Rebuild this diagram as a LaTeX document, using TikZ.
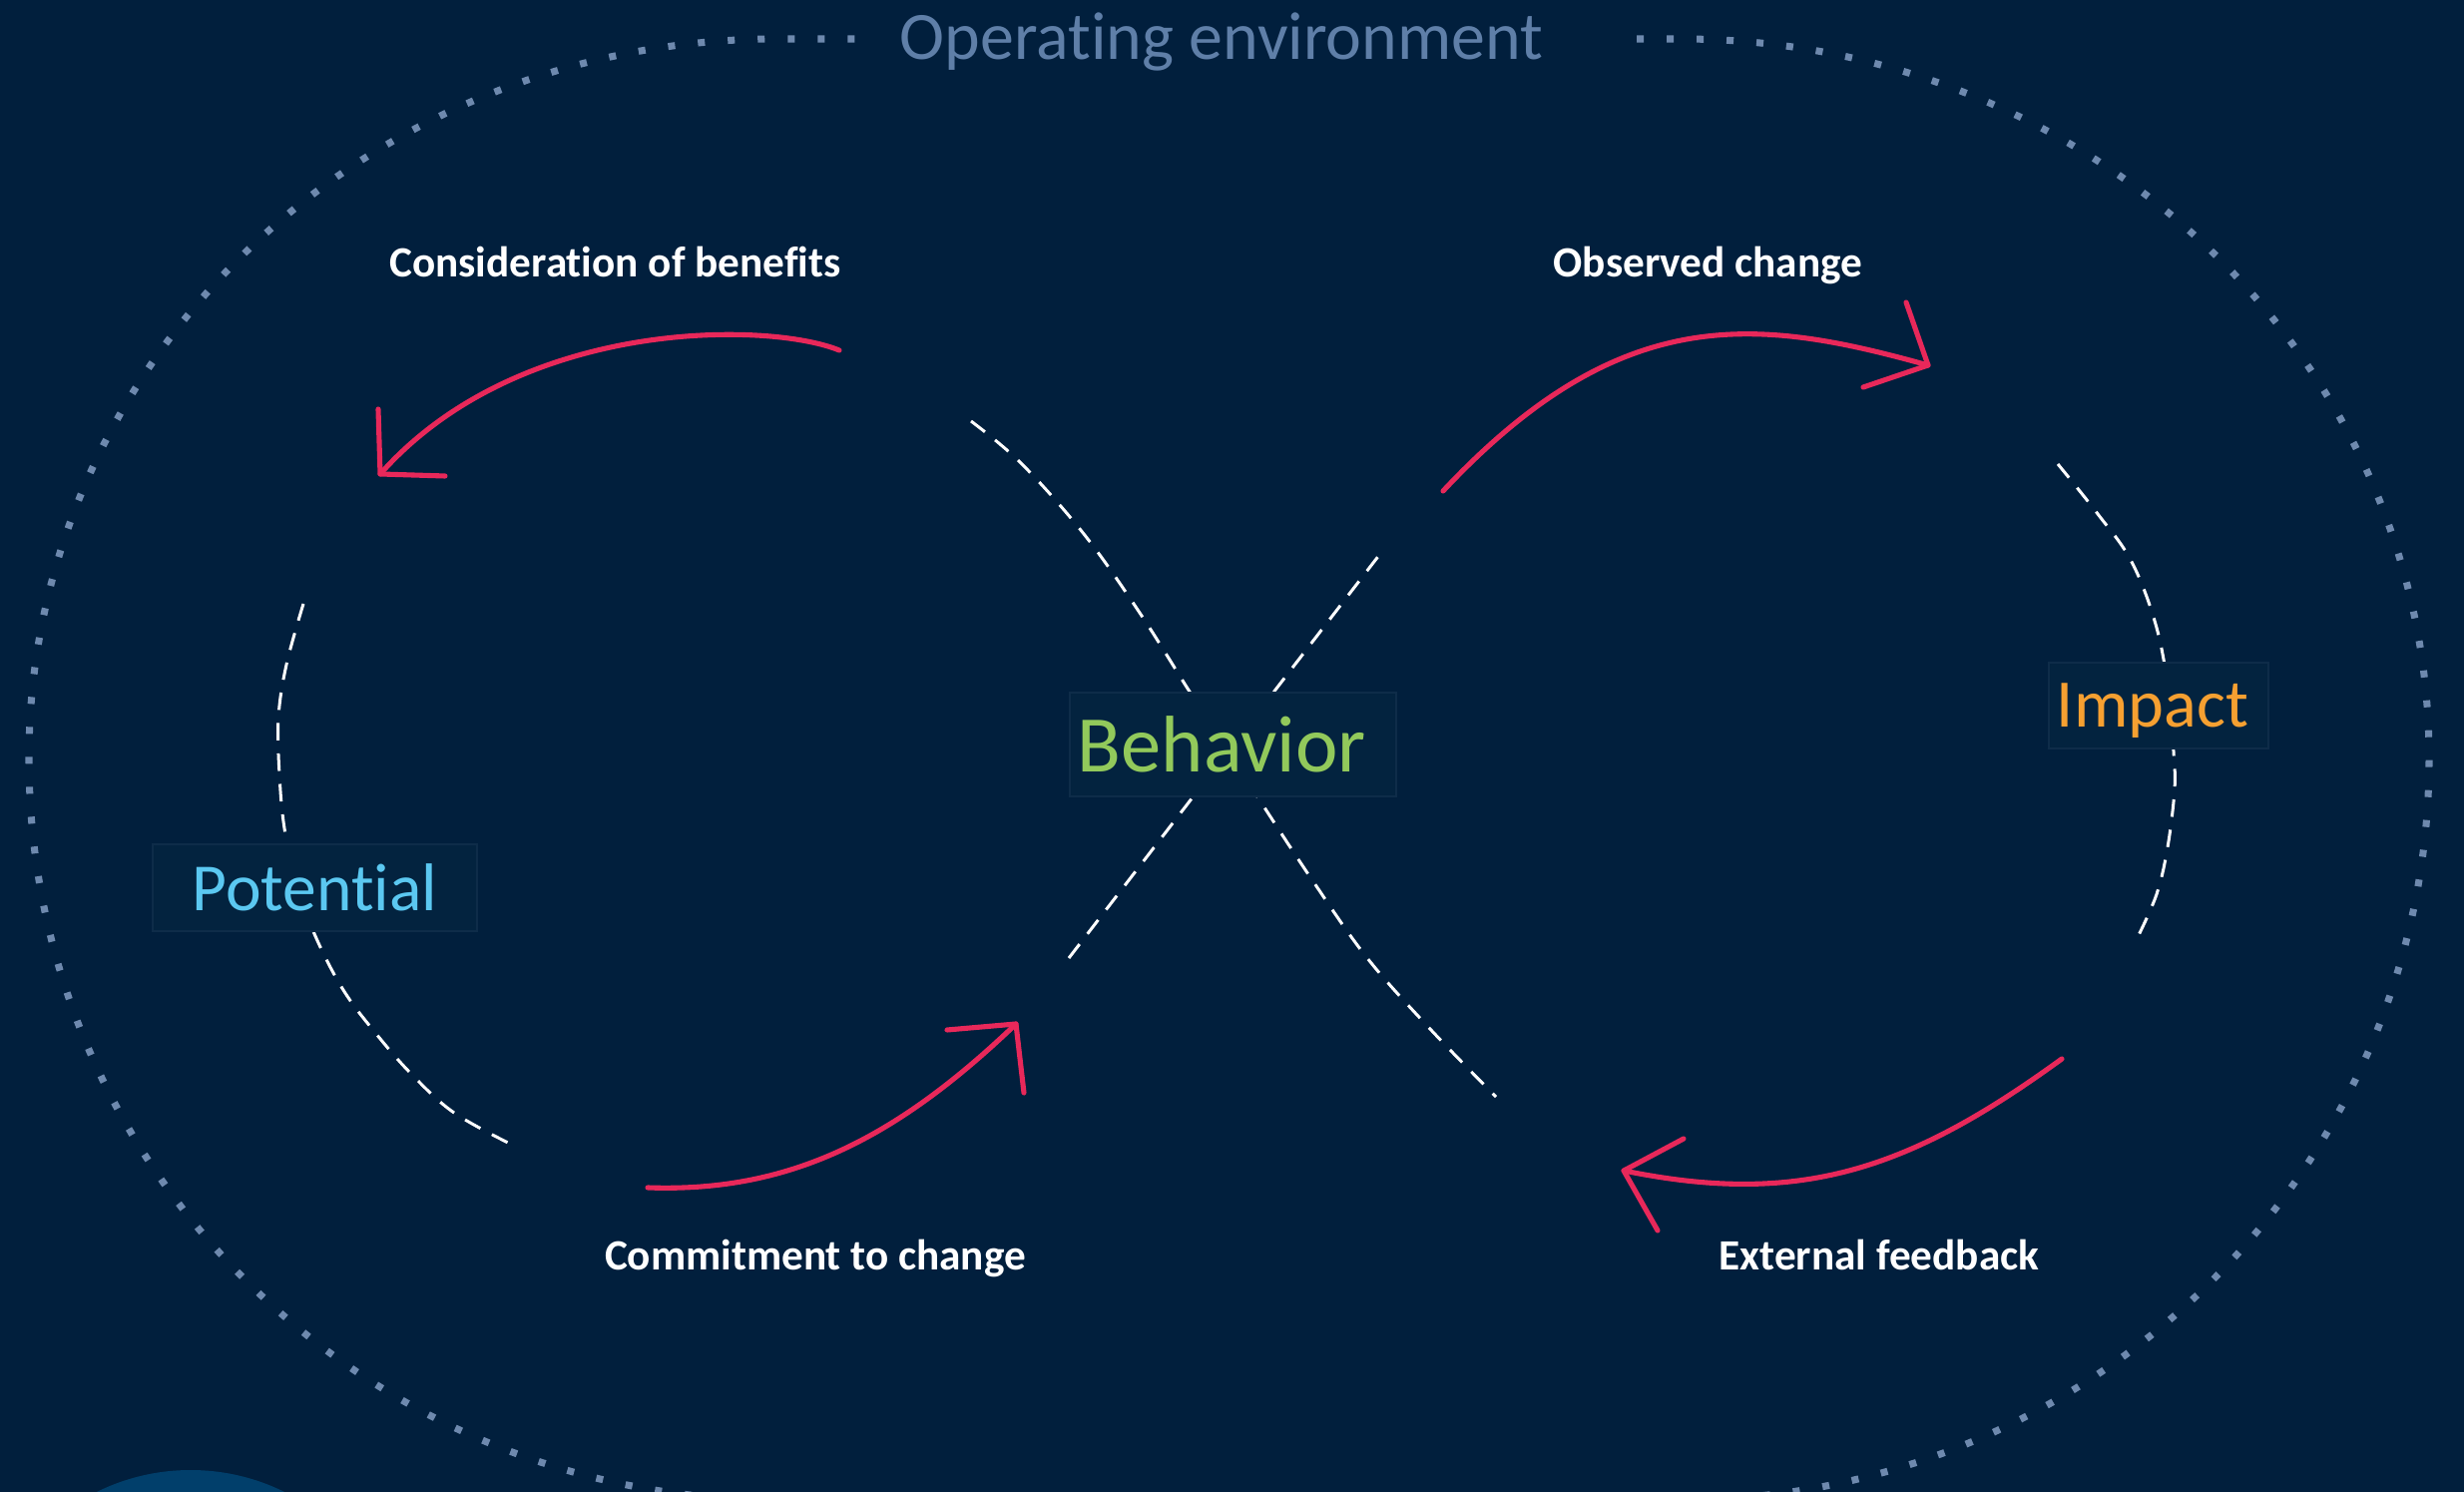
\documentclass[tikz,border=0pt]{standalone}
\usepackage{fontspec}
\setmainfont{Carlito}[RawFeature={-liga;-clig;-calt;-dlig}]
\definecolor{bg}{HTML}{011F3D}
\definecolor{boxc}{HTML}{03233F}
\definecolor{boxline}{HTML}{0E2C49}
\definecolor{titlec}{HTML}{5F7FA8}
\definecolor{greenc}{HTML}{92C95B}
\definecolor{bluec}{HTML}{5BC8F1}
\definecolor{orangec}{HTML}{F6A031}
\definecolor{redc}{HTML}{E8285A}
\definecolor{dotc}{HTML}{6E89AE}
\definecolor{circc}{HTML}{013F6B}
\begin{document}
\begin{tikzpicture}[x=0.01cm,y=-0.01cm,
  dotline/.style={draw=dotc, line width=2pt, dash pattern=on 2pt off 6.54pt},
  loopline/.style={draw=white, line width=0.85pt, dash pattern=on 5pt off 3.7pt},
  redarrow/.style={draw=redc, line width=1.45pt, line cap=round, line join=round},
  labelbox/.style={fill=boxc, draw=boxline, line width=0.4pt, inner xsep=0.08cm, inner ysep=0pt},
  smalllabel/.style={text=white, font=\fontsize{12.3pt}{14pt}\selectfont\bfseries, inner sep=0pt, anchor=base},
]
\useasboundingbox (0,0) rectangle (2469,1495);
\clip (0,0) rectangle (2469,1495);
\fill[bg] (0,0) rectangle (2469,1495);
\fill[circc] (191,1685) circle[radius=212];

% operating environment outline
\path[dotline] (1640,39) -- (1684,39)
  arc[start angle=270,end angle=360,x radius=750,y radius=721]
  arc[start angle=0,end angle=90,x radius=750,y radius=743]
  -- (779,1503)
  arc[start angle=90,end angle=180,x radius=750,y radius=743]
  arc[start angle=180,end angle=270,x radius=750,y radius=721]
  -- (860,39);
\node[anchor=base, inner sep=0pt, text=titlec, font=\fontsize{19.3pt}{23pt}\selectfont] (title) at (1224,60) {Operating environment};

% dashed loop
\draw[loopline] plot[smooth, tension=0.6] coordinates {(304,605) (287,666) (279,719) (280,776) (285,830) (297,885) (316,938) (344,992) (377,1036) (413,1077) (455,1115) (513,1147)};
\draw[loopline] plot[smooth, tension=0.6] coordinates {(2062,465) (2102,515) (2136,563) (2161,629) (2174,700) (2178,753) (2179,791) (2172,849) (2161,896) (2142,939)};
\coordinate (bl) at (1071,960);
\coordinate (tr) at (1386,551);
\draw[loopline] (bl) -- (tr);
\draw[loopline] plot[smooth, tension=0.6] coordinates {(973,422) (1023,464) (1086,535) (1142,614) (1192,693) (1228,748) (1263,803) (1315,882) (1370,960) (1433,1031) (1499,1099)};

% red arrows
\coordinate (r1s) at (841,351); \coordinate (r1t) at (381,475);
\draw[redarrow] (r1s) .. controls (770,322) and (520,318) .. (r1t);
\draw[redarrow] (379,410) -- (r1t) -- (446,477);
\coordinate (r2s) at (1446,492); \coordinate (r2t) at (1932,366);
\draw[redarrow] (r2s) .. controls (1624,302) and (1760,318) .. (r2t);
\draw[redarrow] (1910,303) -- (r2t) -- (1867,388);
\coordinate (r3s) at (2066,1061); \coordinate (r3t) at (1627,1173);
\draw[redarrow] (r3s) .. controls (1912,1173) and (1803,1209) .. (r3t);
\draw[redarrow] (1687,1141) -- (r3t) -- (1661,1233);
\coordinate (r4s) at (649,1190); \coordinate (r4t) at (1018,1026);
\draw[redarrow] (r4s) .. controls (789,1195) and (896,1143) .. (r4t);
\draw[redarrow] (949,1032) -- (r4t) -- (1026,1095);

% boxes
\node[labelbox, minimum width=3.27cm, minimum height=1.04cm, text width=3.11cm, align=left, text=greenc, font=\fontsize{22.9pt}{27pt}\selectfont] (behavior) at (1235.5,746) {Behavior};
\node[labelbox, minimum width=3.25cm, minimum height=0.87cm, text width=3.09cm, align=center, text=bluec, font=\fontsize{19.2pt}{23pt}\selectfont] (potential) at (315.5,889.5) {Potential};
\node[labelbox, minimum width=2.20cm, minimum height=0.86cm, text width=2.04cm, text depth=0pt, align=left, text=orangec, font=\fontsize{19.4pt}{23pt}\selectfont] (impact) at (2163,707) {Impact};

% small labels
\node[smalllabel] (cons) at (616.5,278) {Consideration of benefits};
\node[smalllabel] (obs) at (1711.5,278) {Observed change};
\node[smalllabel] (comm) at (817,1272) {Commitment to change};
\node[smalllabel] (ext) at (1883,1272) {External feedback};
\end{tikzpicture}
\end{document}
